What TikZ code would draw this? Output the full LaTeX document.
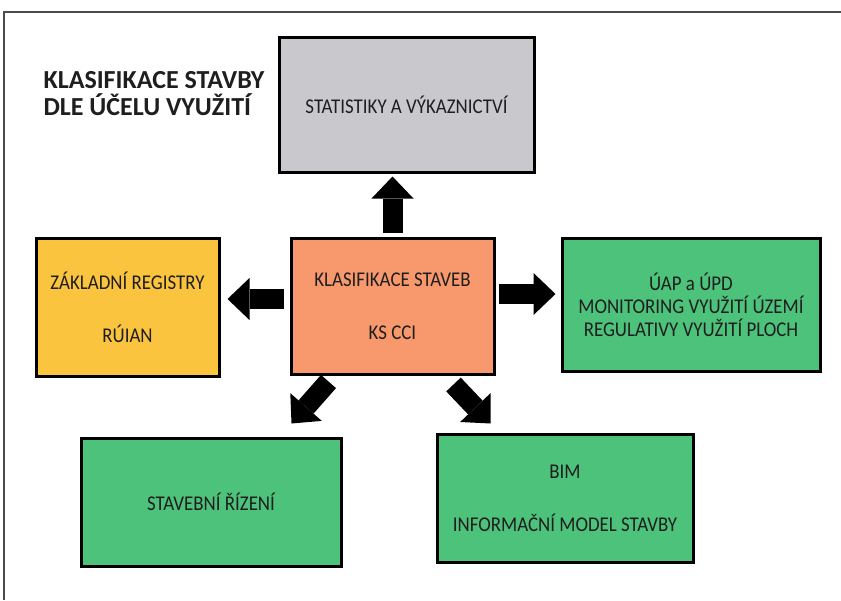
\documentclass[tikz,border=0pt]{standalone}
\usepackage{fontspec}
\setmainfont{Carlito}
\newfontfamily\narrowfont{Carlito}[FakeStretch=0.9]
\usetikzlibrary{arrows.meta}
\definecolor{statgray}{HTML}{C9C9CD}
\definecolor{regyellow}{HTML}{FBC43F}
\definecolor{ksorange}{HTML}{F7996C}
\definecolor{usegreen}{HTML}{4DC27B}
\definecolor{textdark}{HTML}{1E1E1E}
\tikzset{
  box/.style={draw=black, line width=3pt, inner sep=0pt, align=center, text=textdark, font=\narrowfont\fontsize{21}{23}\selectfont},
  bigarrow/.style={line width=20pt, -{Triangle[width=42pt,length=22pt,line width=0pt]}},
}
\begin{document}
\begin{tikzpicture}[x=1pt,y=-1pt]
    \useasboundingbox (0,0) rectangle (841,600);
    % frame
    \draw[line width=1.5pt, black!70] (4,600) -- (4,12) -- (841,12);
    % title
    \node[anchor=north west, align=left, text=textdark, font=\bfseries\fontsize{26}{27}\selectfont] (title) at (40,68) {KLASIFIKACE STAVBY\\DLE ÚČELU VYUŽITÍ};
    % boxes
    \node[box, fill=statgray, minimum width=255pt, minimum height=135pt] (stat) at (406.5,104.5) {STATISTIKY A VÝKAZNICTVÍ};
    \node[box, fill=regyellow, minimum width=183pt, minimum height=138pt] (zr) at (127.5,307) {ZÁKLADNÍ REGISTRY\\[30pt]RÚIAN};
    \node[box, fill=ksorange, minimum width=203pt, minimum height=136pt] (ks) at (392.5,306) {KLASIFIKACE STAVEB\\[30pt]KS CCI};
    \node[box, fill=usegreen, minimum width=258pt, minimum height=133pt] (uap) at (691,304.5) {ÚAP a ÚPD\\MONITORING VYUŽITÍ ÚZEMÍ\\REGULATIVY VYUŽITÍ PLOCH};
    \node[box, fill=usegreen, minimum width=260pt, minimum height=128pt] (srz) at (211,502) {STAVEBNÍ ŘÍZENÍ};
    \node[box, fill=usegreen, minimum width=256pt, minimum height=128pt] (bim) at (565,498) {BIM\\[30pt]INFORMAČNÍ MODEL STAVBY};
    % arrows
    \coordinate (lstart) at ([yshift=7pt]ks.west);
    \coordinate (rstart) at ([yshift=12pt]ks.east);
    \draw[bigarrow, shorten <=4pt, shorten >=3pt] (ks.north) -- (ks.north |- stat.south);
    \draw[bigarrow, shorten <=6pt, shorten >=7pt] (lstart) -- (lstart -| zr.east);
    \draw[bigarrow, shorten <=3pt, shorten >=5pt] (rstart) -- (rstart -| uap.west);
    \draw[bigarrow] ([xshift=39pt,yshift=-6pt]ks.south west) -- ([xshift=-51pt,yshift=13pt]srz.north east);
    \draw[bigarrow] ([xshift=-42pt,yshift=-9pt]ks.south east) -- ([xshift=55pt,yshift=9pt]bim.north west);
\end{tikzpicture}
\end{document}
